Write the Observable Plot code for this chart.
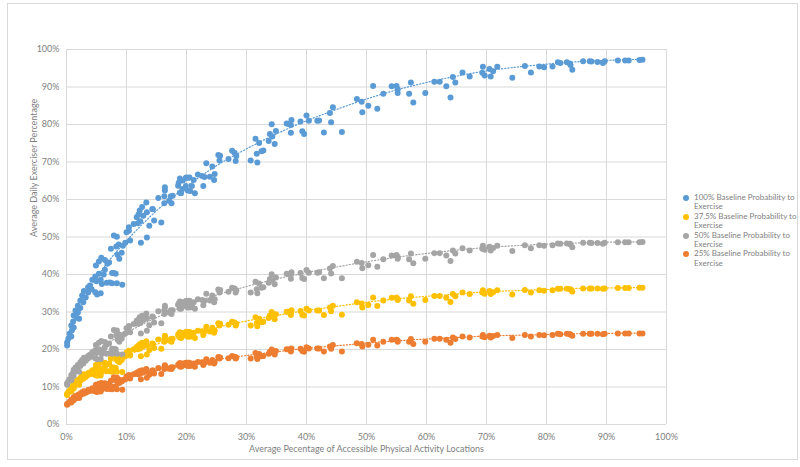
<!DOCTYPE html>
<html><head><meta charset="utf-8">
<script src="https://cdn.jsdelivr.net/npm/d3@7"></script>
<script src="https://cdn.jsdelivr.net/npm/@observablehq/plot@0.6"></script>
<style>
body{margin:0;background:#fff;font-family:Lato,"Liberation Sans",sans-serif;}
#wrap{position:relative;width:800px;height:467px;overflow:hidden;}
#frame{position:absolute;left:7px;top:3px;width:789px;height:455px;border:1px solid #d9d9d9;pointer-events:none;}
#legend{position:absolute;left:683px;top:193px;font-size:8px;color:#7f7f7f;}
.item{position:relative;padding-left:11px;width:108px;line-height:9.4px;}
.sw{position:absolute;left:0;top:2px;width:6px;height:6px;border-radius:50%;}
</style></head><body>
<div id="wrap"><div id="chart"></div><div id="frame"></div><div id="legend"></div></div>
<script>
const xTicks = [0,10,20,30,40,50,60,70,80,90,100];
const yTicks = [0,10,20,30,40,50,60,70,80,90,100];
const xTitle = "Average Pecentage of Accessible Physical Activity Locations";
const yTitle = "Average Daily Exerciser Percentage";
const seriesNames = ["100% Baseline Probability to Exercise","37.5% Baseline Probability to Exercise","50% Baseline Probability to Exercise","25% Baseline Probability to Exercise"];
const seriesColors = ["#5b9bd5","#ffc000","#a5a5a5","#ed7d31"];

const xShared = [
0.1,0.1,0.3,0.5,0.8,0.9,0.8,1.2,1.1,1.2,
1.7,2.1,1.5,1.9,1.9,2.3,2.3,2.8,2.6,3.2,
2.9,3.6,3.9,3.6,4.2,4.8,5.7,5.1,5.9,6.7,
7.2,7.6,8.4,9.3,4.3,5.0,5.7,4.8,5.4,6.2,
6.4,7.6,7.9,8.2,4.9,5.4,5.8,6.4,6.8,7.1,
7.4,8.5,8.8,9.2,8.3,8.7,9.4,9.8,10.6,7.9,
8.4,10.0,10.4,10.4,11.2,11.9,12.3,11.7,12.0,12.8,
12.2,12.6,13.4,13.3,12.4,13.4,13.8,14.6,15.8,14.4,
14.3,15.3,16.3,16.3,17.1,17.4,17.7,17.5,16.4,16.4,
18.6,18.7,18.9,18.9,19.1,19.3,19.4,19.9,19.9,20.0,
20.2,20.3,20.5,20.6,20.9,21.2,21.4,21.9,22.8,22.6,
23.0,23.3,23.9,24.3,24.6,24.7,25.3,25.6,25.5,27.0,
27.6,28.0,28.3,28.2,30.7,31.5,31.8,31.7,32.1,32.5,
32.8,33.7,33.9,34.2,34.3,34.7,34.9,36.7,37.1,37.4,
37.4,37.5,39.0,39.3,39.6,40.0,40.4,41.8,42.1,42.9,
43.9,44.1,44.4,45.9,
48.4,49.2,49.3,50.3,51.1,51.8,52.8,54.2,55.0,55.2,
55.2,57.1,57.4,57.8,59.8,61.3,62.2,63.3,64.0,64.4,
64.8,66.0,67.2,69.4,69.3,69.7,70.5,70.7,71.1,71.8,
74.3,76.4,77.4,78.8,79.6,81.0,81.9,82.3,83.4,83.9,
84.0,84.3,86.1,87.2,87.5,88.5,89.4,89.7,91.9,93.1,
93.7,95.5,96.0];

const y100 = [
21.1,21.9,22.9,24.2,23.5,25.1,26.4,25.9,27.5,29.1,
28.5,28.2,30.4,29.9,31.7,31.1,33.1,32.6,34.4,33.9,
35.6,35.2,37.1,36.6,36.1,35.3,35.0,34.7,37.5,37.8,
37.9,37.7,37.7,37.3,38.6,38.2,38.6,39.5,40.2,40.0,
41.3,40.4,40.4,40.2,42.4,43.5,44.5,43.9,42.9,43.2,
46.9,45.3,44.2,45.8,47.5,48.0,47.7,48.5,49.1,50.4,
50.1,51.3,51.7,52.6,53.5,53.7,54.2,55.3,56.0,55.7,
57.1,58.0,56.6,59.2,48.5,49.9,53.0,54.4,53.9,57.4,
57.5,60.4,59.0,60.9,59.7,60.9,61.0,59.0,63.3,62.4,
63.7,64.5,65.6,61.8,61.7,62.8,65.1,63.6,65.8,65.9,
62.4,65.8,65.9,62.3,63.6,65.2,61.7,66.7,63.6,66.3,
66.0,69.7,66.1,68.8,65.2,66.8,71.9,71.7,70.4,70.8,
73.0,72.5,71.6,70.3,70.4,76.2,69.9,72.2,75.1,72.9,
73.1,75.6,77.5,80.1,76.8,74.8,78.3,80.3,80.1,77.8,
79.9,81.2,80.8,78.2,77.5,82.4,81.0,81.0,81.1,77.9,
83.1,80.6,84.6,78.0,
86.8,86.1,83.3,85.0,90.3,84.2,88.2,90.2,90.3,89.4,
88.4,88.2,91.2,85.9,88.4,91.4,91.4,90.2,87.2,92.7,
91.2,93.9,92.8,95.4,93.8,93.1,94.8,92.8,94.2,95.4,
92.5,95.6,93.9,95.5,95.3,95.5,96.6,96.4,96.6,96.3,
95.9,94.6,96.9,96.9,96.8,96.7,96.4,96.9,97.1,97.1,
97.1,97.2,97.3];

const y375 = [
7.9,8.2,8.6,9.1,8.8,9.4,9.9,9.7,10.3,10.9,
10.7,10.6,11.4,11.2,11.9,11.7,12.4,12.2,12.9,12.7,
13.4,13.2,13.9,13.7,13.5,13.2,13.1,13.0,14.1,14.2,
14.2,14.1,14.1,14.0,14.5,14.3,14.5,14.8,15.1,15.0,
15.5,15.2,15.2,15.1,15.9,16.3,16.7,16.5,16.1,16.2,
17.6,17.0,16.6,17.2,17.8,18.0,17.9,18.2,18.4,18.9,
18.8,19.2,19.4,19.7,20.1,20.1,20.3,20.7,21.0,20.9,
21.4,21.8,21.2,22.2,18.2,18.7,19.9,20.4,20.2,21.5,
21.6,22.7,22.1,22.8,22.4,22.8,22.9,22.1,23.7,23.4,
23.9,24.2,24.6,23.2,23.1,23.6,24.4,23.9,24.7,24.7,
23.4,24.7,24.7,23.4,23.9,24.5,23.1,25.0,23.9,24.9,
24.8,26.1,24.8,25.8,24.5,25.1,27.0,26.9,26.4,26.6,
27.4,27.2,26.9,26.4,26.4,28.6,26.2,27.1,28.2,27.3,
27.4,28.4,29.1,30.0,28.8,28.1,29.4,30.1,30.0,29.2,
30.0,30.5,30.3,29.3,29.1,30.9,30.4,30.4,30.4,29.2,
31.2,30.2,31.7,29.3,
32.6,32.3,31.2,31.9,33.9,31.6,33.1,33.8,33.9,33.5,
33.2,33.1,34.2,32.2,33.2,34.3,34.3,33.8,32.7,34.8,
34.2,35.2,34.8,35.8,35.2,34.9,35.6,34.8,35.3,35.8,
34.7,35.9,35.2,35.8,35.7,35.8,36.2,36.2,36.2,36.1,
36.0,35.5,36.3,36.3,36.3,36.3,36.2,36.3,36.4,36.4,
36.4,36.5,36.5];

const y50 = [
10.6,11.0,11.5,12.1,11.8,12.6,13.2,13.0,13.8,14.6,
14.3,14.1,15.2,15.0,15.9,15.6,16.6,16.3,17.2,17.0,
17.8,17.6,18.6,18.3,18.1,17.7,17.5,17.4,18.8,18.9,
19.0,18.9,18.9,18.7,19.3,19.1,19.3,19.8,20.1,20.0,
20.7,20.2,20.2,20.1,21.2,21.8,22.3,22.0,21.5,21.6,
23.5,22.7,22.1,22.9,23.8,24.0,23.9,24.3,24.6,25.2,
25.1,25.7,25.9,26.3,26.8,26.9,27.1,27.7,28.0,27.9,
28.6,29.0,28.3,29.6,24.3,25.0,26.5,27.2,27.0,28.7,
28.8,30.2,29.5,30.5,29.9,30.5,30.5,29.5,31.7,31.2,
31.9,32.3,32.8,30.9,30.9,31.4,32.6,31.8,32.9,33.0,
31.2,32.9,33.0,31.2,31.8,32.6,30.9,33.4,31.8,33.2,
33.0,34.9,33.1,34.4,32.6,33.4,36.0,35.9,35.2,35.4,
36.5,36.3,35.8,35.2,35.2,38.1,35.0,36.1,37.6,36.5,
36.6,37.8,38.8,40.1,38.4,37.4,39.2,40.2,40.1,38.9,
40.0,40.6,40.4,39.1,38.8,41.2,40.5,40.5,40.6,39.0,
41.6,40.3,42.3,39.0,
43.4,43.1,41.7,42.5,45.2,42.1,44.1,45.1,45.2,44.7,
44.2,44.1,45.6,43.0,44.2,45.7,45.7,45.1,43.6,46.4,
45.6,47.0,46.4,47.7,46.9,46.6,47.4,46.4,47.1,47.7,
46.3,47.8,47.0,47.8,47.7,47.8,48.3,48.2,48.3,48.2,
48.0,47.3,48.5,48.5,48.4,48.4,48.2,48.5,48.6,48.6,
48.6,48.6,48.7];

const y25 = [
5.3,5.5,5.7,6.1,5.9,6.3,6.6,6.5,6.9,7.3,
7.1,7.1,7.6,7.5,7.9,7.8,8.3,8.2,8.6,8.5,
8.9,8.8,9.3,9.2,9.0,8.8,8.8,8.7,9.4,9.5,
9.5,9.4,9.4,9.3,9.7,9.6,9.7,9.9,10.1,10.0,
10.3,10.1,10.1,10.1,10.6,10.9,11.1,11.0,10.7,10.8,
11.7,11.3,11.1,11.5,11.9,12.0,11.9,12.1,12.3,12.6,
12.5,12.8,12.9,13.2,13.4,13.4,13.6,13.8,14.0,13.9,
14.3,14.5,14.2,14.8,12.1,12.5,13.3,13.6,13.5,14.4,
14.4,15.1,14.8,15.2,14.9,15.2,15.3,14.8,15.8,15.6,
15.9,16.1,16.4,15.5,15.4,15.7,16.3,15.9,16.5,16.5,
15.6,16.5,16.5,15.6,15.9,16.3,15.4,16.7,15.9,16.6,
16.5,17.4,16.5,17.2,16.3,16.7,18.0,17.9,17.6,17.7,
18.3,18.1,17.9,17.6,17.6,19.1,17.5,18.1,18.8,18.2,
18.3,18.9,19.4,20.0,19.2,18.7,19.6,20.1,20.0,19.5,
20.0,20.3,20.2,19.6,19.4,20.6,20.3,20.3,20.3,19.5,
20.8,20.2,21.2,19.5,
21.7,21.5,20.8,21.3,22.6,21.1,22.1,22.6,22.6,22.4,
22.1,22.1,22.8,21.5,22.1,22.9,22.9,22.6,21.8,23.2,
22.8,23.5,23.2,23.9,23.5,23.3,23.7,23.2,23.6,23.9,
23.1,23.9,23.5,23.9,23.8,23.9,24.2,24.1,24.2,24.1,
24.0,23.7,24.2,24.2,24.2,24.2,24.1,24.2,24.3,24.3,
24.3,24.3,24.3];

// dotted trendlines
const trendX = [0.1,0.5,1,2,3,5,7.5,10,15,20,25,30,35,40,45,50,55,60,65,70,75,80,85,90,96];
const trend100 = [21.5,23.5,26,30,33.5,39,44.5,49,57,63.5,69,73.5,77.5,81,84,86.8,89.2,91.2,92.9,94.3,95.3,96.1,96.7,97.1,97.4];
const trend375 = [8.1,8.8,9.8,11.3,12.6,14.6,16.7,18.4,21.4,23.8,25.9,27.6,29.1,30.4,31.5,32.6,33.5,34.2,34.8,35.4,35.7,36.0,36.3,36.4,36.5];
const trend50 = [10.8,11.8,13,15,16.8,19.5,22.3,24.5,28.5,31.8,34.5,36.8,38.8,40.5,42,43.4,44.6,45.6,46.5,47.2,47.7,48.1,48.4,48.6,48.7];
const trend25 = [5.4,5.9,6.5,7.5,8.4,9.8,11.1,12.3,14.3,15.9,17.3,18.4,19.4,20.3,21,21.7,22.3,22.8,23.2,23.6,23.8,24.0,24.2,24.3,24.4];

const seriesValues = [y100, y375, y50, y25];
const seriesTrends = [trend100, trend375, trend50, trend25];

const points = seriesNames.flatMap((name, k) => xShared.map((x, i) => ({x, y: seriesValues[k][i], name})));
const trends = seriesNames.flatMap((name, k) => trendX.map((x, i) => ({x, y: seriesTrends[k][i], name})));

const fmt = d => d + "%";
const chart = Plot.plot({
  width: 800, height: 467,
  marginLeft: 66, marginRight: 134, marginTop: 49, marginBottom: 43,
  style: {fontFamily: "Lato, 'Liberation Sans', sans-serif", fontSize: "9px", color: "#7f7f7f", background: "transparent"},
  x: {domain: [0, 100], ticks: xTicks, tickFormat: fmt, tickSize: 0, tickPadding: 9, label: null},
  y: {domain: [0, 100], ticks: yTicks, tickFormat: fmt, tickSize: 0, tickPadding: 7, label: null},
  color: {domain: seriesNames, range: seriesColors},
  marks: [
    Plot.gridX(xTicks, {stroke: "#d9d9d9", strokeOpacity: 1}),
    Plot.gridY(yTicks, {stroke: "#d9d9d9", strokeOpacity: 1}),
    Plot.dot(points, {x: "x", y: "y", fill: "name", r: 3}),
    Plot.line(trends, {x: "x", y: "y", z: "name", stroke: "name", strokeWidth: 1.2, strokeDasharray: "1.2,2", curve: "monotone-x"}),
    Plot.text([xTitle], {frameAnchor: "bottom", dy: 27, fontSize: 9, fill: "#7f7f7f"}),
    Plot.text([yTitle], {frameAnchor: "left", rotate: -90, dx: -32, fontSize: 9, fill: "#7f7f7f"})
  ]
});
document.getElementById("chart").appendChild(chart);

const legend = document.getElementById("legend");
seriesNames.forEach((name, k) => {
  const item = document.createElement("div");
  item.className = "item";
  const sw = document.createElement("span");
  sw.className = "sw";
  sw.style.background = seriesColors[k];
  item.appendChild(sw);
  item.appendChild(document.createTextNode(name));
  legend.appendChild(item);
});
</script>
</body></html>
